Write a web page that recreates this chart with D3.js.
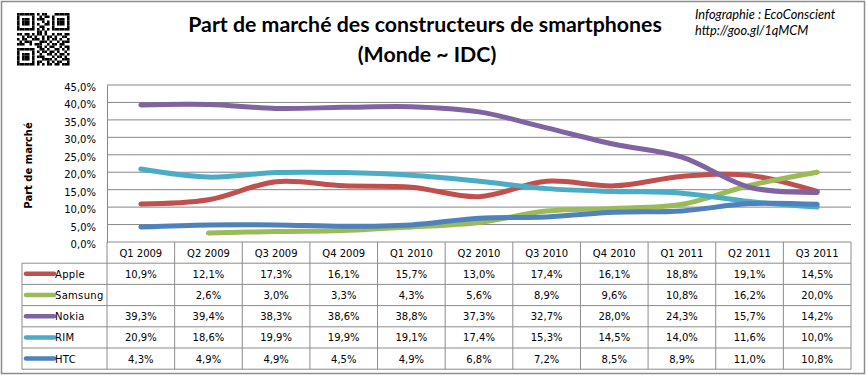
<!DOCTYPE html>
<html>
<head>
<meta charset="utf-8">
<script src="https://cdn.jsdelivr.net/npm/d3@7"></script>
<style>
  body { margin: 0; background: #fff; }
  svg { display: block; }
</style>
</head>
<body>
<svg id="chart" width="866" height="375"></svg>
<script>
// data
const quarters = ['Q1 2009','Q2 2009','Q3 2009','Q4 2009','Q1 2010','Q2 2010','Q3 2010','Q4 2010','Q1 2011','Q2 2011','Q3 2011']
const brands = ['Apple','Samsung','Nokia','RIM','HTC']
const apple   = [10.9, 12.1, 17.3, 16.1, 15.7, 13.0, 17.4, 16.1, 18.8, 19.1, 14.5]
const samsung = [null, 2.6, 3.0, 3.3, 4.3, 5.6, 8.9, 9.6, 10.8, 16.2, 20.0]
const nokia   = [39.3, 39.4, 38.3, 38.6, 38.8, 37.3, 32.7, 28.0, 24.3, 15.7, 14.2]
const rim     = [20.9, 18.6, 19.9, 19.9, 19.1, 17.4, 15.3, 14.5, 14.0, 11.6, 10.0]
const htc     = [4.3, 4.9, 4.9, 4.5, 4.9, 6.8, 7.2, 8.5, 8.9, 11.0, 10.8]
const yTicks  = [0, 5, 10, 15, 20, 25, 30, 35, 40, 45]
const colors  = ['#C0504D', '#9BBB59', '#8064A2', '#4BACC6', '#4F81BD']

// QR code look-alike (decorative only)
const qrRows = [
  '111111101011000111111',
  '100000100101101000001',
  '101110101110001011101',
  '101110100010101011101',
  '101110101001101011101',
  '100000100110001000001',
  '111111101010101111111',
  '000000001101000000000',
  '110110101101001011011',
  '001011010010110100110',
  '101100111010101101001',
  '010111000111010010111',
  '111001011100101101100',
  '000000001101011001011',
  '111111100110100110101',
  '100000101011011010010',
  '101110100100110101101',
  '101110101110001011010',
  '101110100011110100111',
  '100000101100101011001',
  '111111101010110110111'
]

const series = brands.map((b, i) => ({name: b, color: colors[i], values: [apple, samsung, nokia, rim, htc][i]}))

const svg = d3.select('#chart')
const W = 866, H = 375
const plot = {left: 107, right: 851, top: 85, bottom: 242}
const legendLeft = 22
const rowH = 21.2
const fmt = v => v == null ? '' : v.toFixed(1).replace('.', ',') + '%'
const tickFont = 'Verdana, "DejaVu Sans", sans-serif'
const titleFont = 'Lato, "Open Sans", sans-serif'

// outer frame
svg.append('rect')
  .attr('x', 1.5).attr('y', 1.5)
  .attr('width', W - 3).attr('height', H - 3)
  .attr('fill', '#fff')
  .attr('stroke', '#8c8c8c')
  .attr('stroke-width', 1.5)

// QR code
const qrG = svg.append('g').attr('transform', 'translate(17,13)')
const mod = 2.5
qrRows.forEach((row, r) => {
  row.split('').forEach((c, k) => {
    if (c === '1') {
      qrG.append('rect')
        .attr('x', k * mod).attr('y', r * mod)
        .attr('width', mod + 0.05).attr('height', mod + 0.05)
        .attr('fill', '#000')
    }
  })
})

// titles
svg.append('text')
  .attr('x', 425).attr('y', 32)
  .attr('text-anchor', 'middle')
  .attr('font-family', titleFont)
  .attr('font-weight', 'bold')
  .attr('font-size', 21.3)
  .text('Part de marché des constructeurs de smartphones')
svg.append('text')
  .attr('x', 427).attr('y', 62)
  .attr('text-anchor', 'middle')
  .attr('font-family', titleFont)
  .attr('font-weight', 'bold')
  .attr('font-size', 21.3)
  .text('(Monde ~ IDC)')

svg.append('text')
  .attr('x', 695).attr('y', 19)
  .attr('font-family', titleFont)
  .attr('font-style', 'italic')
  .attr('font-size', 12.8)
  .text('Infographie : EcoConscient')
svg.append('text')
  .attr('x', 695).attr('y', 35)
  .attr('font-family', titleFont)
  .attr('font-style', 'italic')
  .attr('font-size', 12.8)
  .text('http://goo.gl/1qMCM')

// scales
const xScale = d3.scaleBand().domain(quarters).range([plot.left, plot.right]).padding(0)
const yScale = d3.scaleLinear().domain([0, 45]).range([plot.bottom, plot.top])
const xc = q => xScale(q) + xScale.bandwidth() / 2

// grid
svg.append('g')
  .selectAll('line')
  .data(yTicks.filter(d => d > 0))
  .join('line')
  .attr('x1', plot.left).attr('x2', plot.right)
  .attr('y1', d => yScale(d)).attr('y2', d => yScale(d))
  .attr('stroke', '#878787')
  .attr('stroke-width', 1)

// y axis
const yAxis = d3.axisLeft(yScale)
  .tickValues(yTicks)
  .tickFormat(d => fmt(d))
  .tickSize(0)
  .tickPadding(11)
const yG = svg.append('g')
  .attr('transform', `translate(${plot.left},0)`)
  .call(yAxis)
yG.select('.domain').attr('stroke', '#878787')
yG.selectAll('text')
  .attr('font-family', tickFont)
  .attr('font-size', 10)
  .attr('fill', '#000')
  .attr('dy', '0.55em')

svg.append('text')
  .attr('transform', `translate(32,${(plot.top + plot.bottom) / 2 + 2}) rotate(-90)`)
  .attr('text-anchor', 'middle')
  .attr('font-family', tickFont)
  .attr('font-weight', 'bold')
  .attr('font-size', 10)
  .text('Part de marché')

// lines
const line = d3.line()
  .defined(d => d.v != null)
  .curve(d3.curveCatmullRom.alpha(0))
  .x(d => xc(d.q))
  .y(d => yScale(d.v))

series.forEach(s => {
  svg.append('path')
    .datum(quarters.map((q, i) => ({q: q, v: s.values[i]})))
    .attr('d', line)
    .attr('fill', 'none')
    .attr('stroke', s.color)
    .attr('stroke-width', 5)
    .attr('stroke-linecap', 'round')
    .attr('stroke-linejoin', 'round')
})

// data table
const tableG = svg.append('g')
const gridColor = '#8c8c8c'
const tableTop = plot.bottom
const tableBottom = tableTop + rowH * (brands.length + 1)

// horizontal lines of the table
d3.range(brands.length + 2).forEach(i => {
  tableG.append('line')
    .attr('x1', i === 0 ? plot.left : legendLeft)
    .attr('x2', plot.right)
    .attr('y1', tableTop + i * rowH).attr('y2', tableTop + i * rowH)
    .attr('stroke', gridColor)
})
// vertical lines
tableG.append('line')
  .attr('x1', legendLeft).attr('x2', legendLeft)
  .attr('y1', tableTop + rowH).attr('y2', tableBottom)
  .attr('stroke', gridColor)
quarters.forEach(q => {
  tableG.append('line')
    .attr('x1', xScale(q)).attr('x2', xScale(q))
    .attr('y1', tableTop).attr('y2', tableBottom)
    .attr('stroke', gridColor)
})
tableG.append('line')
  .attr('x1', plot.right).attr('x2', plot.right)
  .attr('y1', tableTop).attr('y2', tableBottom)
  .attr('stroke', gridColor)

// header
tableG.selectAll('.qlab')
  .data(quarters)
  .join('text')
  .attr('class', 'qlab')
  .attr('x', d => xc(d))
  .attr('y', tableTop + rowH / 2 + 4)
  .attr('text-anchor', 'middle')
  .attr('font-family', tickFont)
  .attr('font-size', 10)
  .text(d => d)

// rows
series.forEach((s, r) => {
  const cy = tableTop + rowH * (r + 1) + rowH / 2
  tableG.append('line')
    .attr('x1', legendLeft + 4).attr('x2', legendLeft + 32)
    .attr('y1', cy).attr('y2', cy)
    .attr('stroke', s.color)
    .attr('stroke-width', 4.5)
    .attr('stroke-linecap', 'round')
  tableG.append('text')
    .attr('x', legendLeft + 33)
    .attr('y', cy + 4)
    .attr('font-family', tickFont)
    .attr('font-size', 10)
    .attr('letter-spacing', 0.3)
    .text(s.name)
  tableG.selectAll('.v' + r)
    .data(quarters)
    .join('text')
    .attr('class', 'v' + r)
    .attr('x', d => xc(d))
    .attr('y', cy + 4)
    .attr('text-anchor', 'middle')
    .attr('font-family', tickFont)
    .attr('font-size', 10)
    .text((d, i) => fmt(s.values[i]))
})
</script>
</body>
</html>
